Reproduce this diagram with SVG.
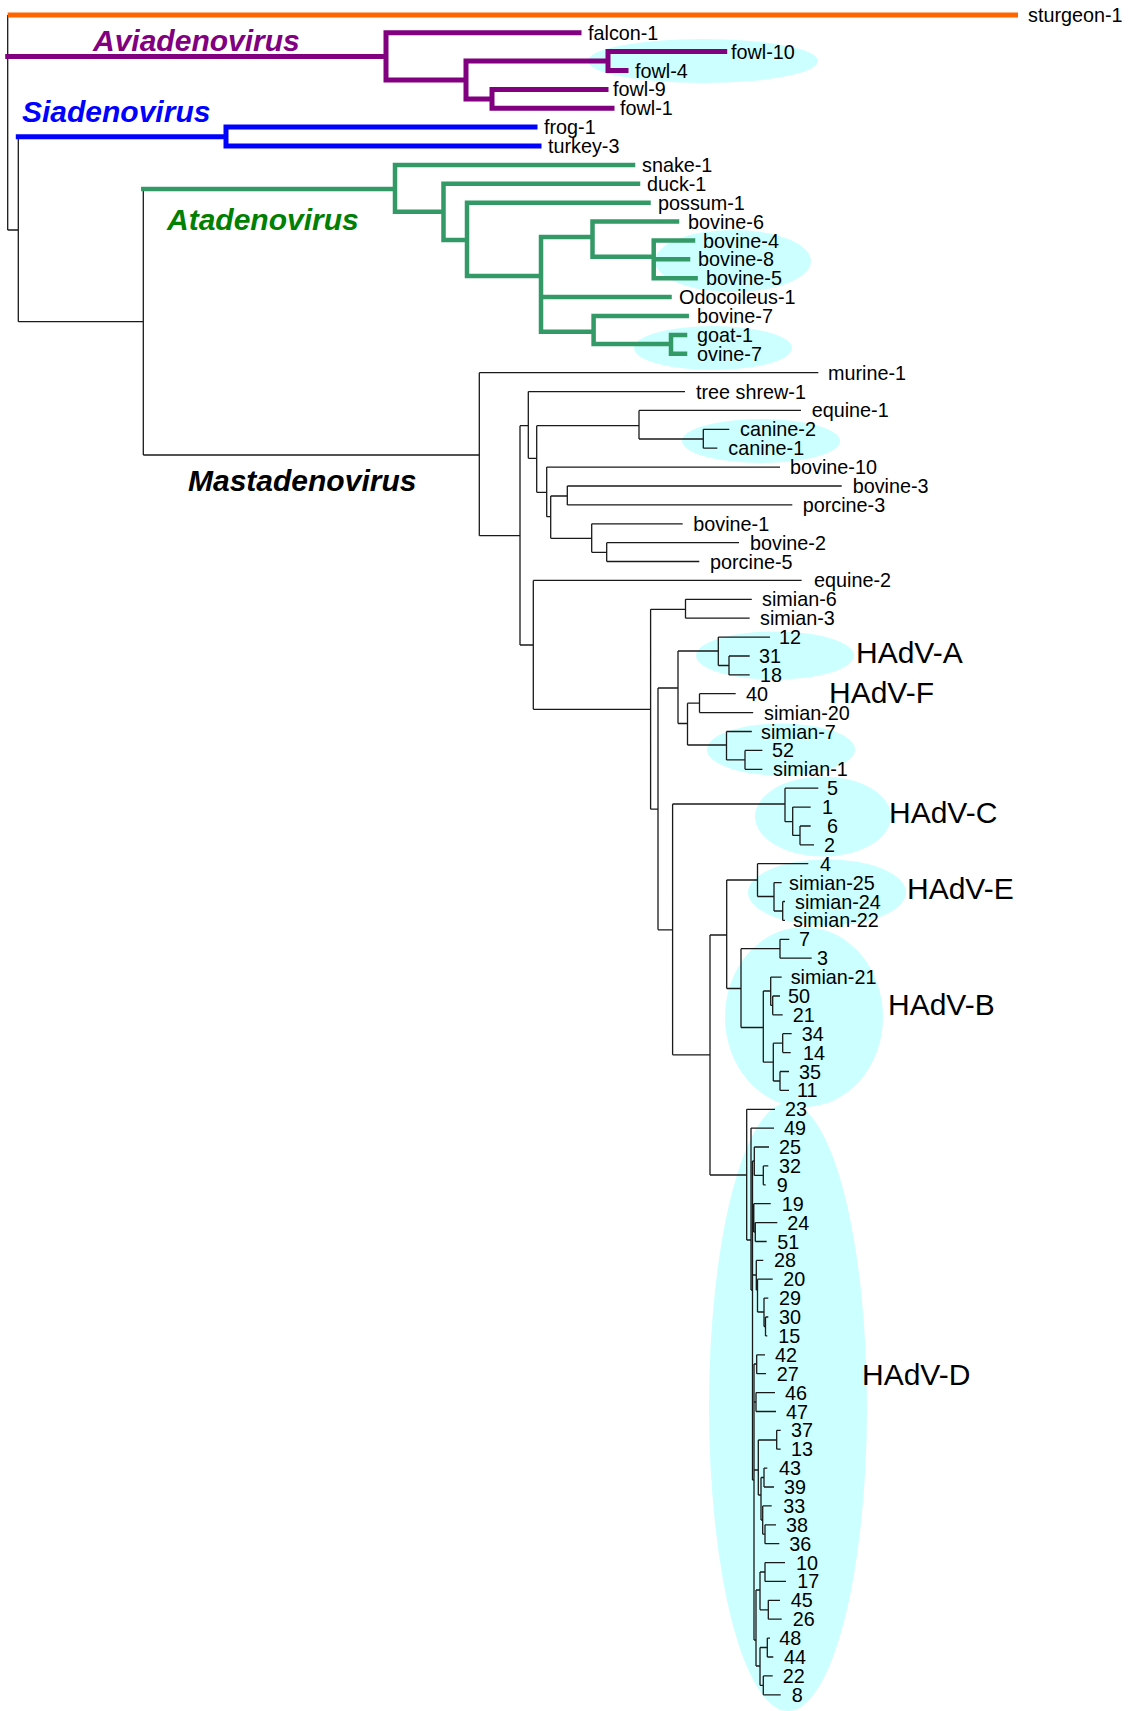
<svg xmlns="http://www.w3.org/2000/svg" width="1136" height="1711" viewBox="0 0 1136 1711">
<defs>
<style>
.hl{fill:#ccffff;stroke:none}
.br{fill:none;stroke:#1a1a1a;stroke-width:1.3}
.thick{fill:none;stroke-width:5;stroke-linecap:square}
.av{stroke:#800080}
.si{stroke:#0000ff}
.at{stroke:#339966;stroke-width:4.5}
.lf{font-family:"Liberation Sans",Arial,sans-serif;font-size:19.8px;fill:#000}
.cl{font-family:"Liberation Sans",Arial,sans-serif;font-size:30px;font-weight:bold;font-style:italic}
.hv{font-family:"Liberation Sans",Arial,sans-serif;font-size:30px;fill:#000}
</style>
</defs>
<rect width="1136" height="1711" fill="#fff"/>
<g id="highlights">
<ellipse class="hl" cx="703" cy="61" rx="115" ry="22"/>
<ellipse class="hl" cx="733" cy="261" rx="78" ry="31"/>
<ellipse class="hl" cx="713" cy="348" rx="79" ry="22"/>
<ellipse class="hl" cx="761" cy="441" rx="79" ry="22"/>
<ellipse class="hl" cx="775" cy="655.5" rx="79" ry="24"/>
<ellipse class="hl" cx="781" cy="749.5" rx="74" ry="26"/>
<ellipse class="hl" cx="823" cy="816.5" rx="68" ry="40"/>
<ellipse class="hl" cx="827" cy="892.3" rx="79" ry="33"/>
<ellipse class="hl" cx="804" cy="1017" rx="79" ry="90"/>
<ellipse class="hl" cx="788" cy="1407" rx="79" ry="304"/>
</g>
<g id="connectors">
<path class="br" d="M7.7 15V230M7.7 230H18.3M18.3 136.7V321.7M18.3 321.7H143.3M143.3 189V455M143.3 455H479.3"/>
<path fill="none" stroke="#ff6600" stroke-width="5" d="M7.7 15H1018"/>
<path class="thick av" d="M7.7 56.5H386M386 32.7V80M386 32.7H579M386 80H466M466 61V98.9M466 61H608M608 51.6V70.5M608 51.6H724.7M608 70.5H626M466 98.9H492M492 89.4V108.3M492 89.4H606M492 108.3H612"/>
<path class="thick si" d="M18.3 136.7H226M226 127.1V146M226 127.1H535M226 146H539"/>
<path class="thick at" d="M143.3 189H395M395 164.9V211.7M395 164.9H633M395 211.7H443.5M443.5 183.8V240M443.5 183.8H638M443.5 240H467M467 202.7V276M467 202.7H648.5M467 276H541M541 237V331.7M541 237H592.5M541 297.1H669.5M541 331.7H593.6M592.5 221.6V256.7M592.5 221.6H677M592.5 256.7H653.7M653.7 240.5V278.2M653.7 240.5H693M653.7 259.3H688M653.7 278.2H695.6M593.6 316V344M593.6 316H686.7M593.6 344H671M671 334.9V353.8M671 334.9H685M671 353.8H685"/>
<path class="br" d="M479.3 372.7V535.7M479.3 372.7H818.3M479.3 535.7H520M520 425.7V645M520 425.7H528.3M528.3 391.6V458.3M528.3 391.6H685M528.3 458.3H536.7M536.7 425.7V492.3M536.7 425.7H639M639 410.4V439M639 410.4H801M639 439H703.3M703.3 429.3V448.2M703.3 429.3H729.3M703.3 448.2H717.3M536.7 492.3H546.7M546.7 467.1V516.7M546.7 467.1H780M546.7 516.7H550.7M550.7 496V538.3M550.7 496H567.3M567.3 486V504.9M567.3 486H841.7M567.3 504.9H792.3M550.7 538.3H591.7M591.7 523.8V552.3M591.7 523.8H682.7M591.7 552.3H606.7M606.7 542.7V561.5M606.7 542.7H739M606.7 561.5H699.3"/>
<path class="br" d="M520 645H533.3M533.3 580.4V709.3M533.3 580.4H801.6M533.3 709.3H650.6M650.6 609.3V809.2M650.6 609.3H685.5M685.5 599.3V618.2M685.5 599.3H751.8M685.5 618.2H749.7M650.6 809.2H658M658 688V929.8M658 688H678M678 651V723.5M678 651H718.3M718.3 637.1V665.5M718.3 637.1H770M718.3 665.5H729M729 656V674.9M729 656H749.7M729 674.9H749.7M678 723.5H687.5M687.5 703.2V745M687.5 703.2H699.5M699.5 693.7V712.6M699.5 693.7H735.7M699.5 712.6H753.2M687.5 745H726.5M726.5 731.5V759.9M726.5 731.5H751.8M726.5 759.9H745M745 750.4V769.3M745 750.4H762.4M745 769.3H762.4"/>
<path class="br" d="M658 929.8H672.6M672.6 804V1054.8M672.6 804H785M785 788.2V821.7M785 788.2H818.3M785 821.7H792.7M792.7 807.1V835.4M792.7 807.1H810.7M792.7 835.4H800M800 826V844.8M800 826H810.7M800 844.8H814M672.6 1054.8H710M710 935V1175M710 935H726.7M726.7 880V988.5M726.7 880H757.5M757.5 863.7V896.5M757.5 863.7H808.3M757.5 896.5H774M774 882.6V911M774 882.6H781.7M774 911H782.7M782.7 901.5V920.4M782.7 901.5H785M782.7 920.4H785M726.7 988.5H741M741 948.7V1027.5M741 948.7H780M780 939.3V958.2M780 939.3H789.3M780 958.2H811.7M741 1027.5H763.3M763.3 991V1062.2M763.3 991H770.7M770.7 977.1V1005.4M770.7 977.1H781.7M770.7 1005.4H772.7M772.7 996V1014.8M772.7 996H780M772.7 1014.8H782.7M763.3 1062.2H773.3M773.3 1043.2V1081M773.3 1043.2H782.7M782.7 1033.7V1052.6M782.7 1033.7H791.7M782.7 1052.6H790.7M773.3 1081H780M780 1071.5V1090.4M780 1071.5H789M780 1090.4H789"/>
<path class="br" d="M710 1175H746.7M746.7 1109.3V1240M746.7 1109.3H775M746.7 1240H751M751 1128.1V1290M751 1128.1H774M751 1290H752.5M752.5 1161V1480M752.5 1161H754.3M754.3 1147V1175.4M754.3 1147H769M754.3 1175.4H763.3M763.3 1165.9V1184.8M763.3 1165.9H768.3M763.3 1184.8H765.7M752.5 1218H753.8M753.8 1203.7V1232M753.8 1203.7H770.7M753.8 1232H755.3M755.3 1222.6V1241.5M755.3 1222.6H777.3M755.3 1241.5H766.7M752.5 1275H756.3M756.3 1260.4V1290M756.3 1260.4H763.3M756.3 1290H757.5M757.5 1279.2V1312M757.5 1279.2H772.7M757.5 1312H764M764 1298.1V1326.5M764 1298.1H768.3M764 1326.5H765.5M765.5 1317V1335.9M765.5 1317H768.3M765.5 1335.9H767.3"/>
<path class="br" d="M752.5 1480H754M754 1364V1640M754 1364H756.7M756.7 1354.8V1373.7M756.7 1354.8H765M756.7 1373.7H766M754 1402H756M756 1392.6V1411.5M756 1392.6H775M756 1411.5H776M754 1470H758.3M758.3 1440V1495M758.3 1440H776.7M776.7 1430.3V1449.2M776.7 1430.3H780.7M776.7 1449.2H780.7M758.3 1495H761M761 1477.5V1520M761 1477.5H764M764 1468.1V1487M764 1468.1H767.3M764 1487H774M761 1520H762.7M762.7 1505.9V1534.2M762.7 1505.9H771.7M762.7 1534.2H765M765 1524.8V1543.7M765 1524.8H776M765 1543.7H779.3M754 1640H756M756 1590V1666M756 1590H760M760 1572V1609.8M760 1572H765M765 1562.6V1581.4M765 1562.6H785M765 1581.4H786M760 1609.8H768.3M768.3 1600.3V1619.2M768.3 1600.3H780M768.3 1619.2H781.7M756 1666H760M760 1647.5V1685.3M760 1647.5H767.3M767.3 1638.1V1657M767.3 1638.1H770M767.3 1657H773.3M760 1685.3H763.3M763.3 1675.9V1694.8M763.3 1675.9H772.7M763.3 1694.8H780.7"/>
</g>
<g id="clade-labels">
<text id="lbl-avi" class="cl" x="93" y="51" fill="#800080">Aviadenovirus</text>
<text id="lbl-sia" class="cl" x="22" y="122" fill="#0000ff">Siadenovirus</text>
<text id="lbl-ata" class="cl" x="167" y="229.5" fill="#008000">Atadenovirus</text>
<text id="lbl-mast" class="cl" x="188" y="490.5" fill="#000">Mastadenovirus</text>
<text id="lbl-A" class="hv" x="856" y="663">HAdV-A</text>
<text id="lbl-F" class="hv" x="829" y="703">HAdV-F</text>
<text id="lbl-C" class="hv" x="889" y="823">HAdV-C</text>
<text id="lbl-E" class="hv" x="907" y="899">HAdV-E</text>
<text id="lbl-B" class="hv" x="888" y="1015">HAdV-B</text>
<text id="lbl-D" class="hv" x="862" y="1385">HAdV-D</text>
</g>
<g id="leaves" class="lf">
<g id="n-sturgeon-1"><text x="1028" y="22">sturgeon-1</text></g>
<g id="n-falcon-1"><text x="588" y="39.7">falcon-1</text></g>
<g id="n-fowl-10"><text x="731" y="58.6">fowl-10</text></g>
<g id="n-fowl-4"><text x="635" y="77.5">fowl-4</text></g>
<g id="n-fowl-9"><text x="613" y="96.4">fowl-9</text></g>
<g id="n-fowl-1"><text x="620" y="115.3">fowl-1</text></g>
<g id="n-frog-1"><text x="544" y="134.1">frog-1</text></g>
<g id="n-turkey-3"><text x="548" y="153">turkey-3</text></g>
<g id="n-snake-1"><text x="642" y="171.9">snake-1</text></g>
<g id="n-duck-1"><text x="647" y="190.8">duck-1</text></g>
<g id="n-possum-1"><text x="658" y="209.7">possum-1</text></g>
<g id="n-bovine-6"><text x="688" y="228.6">bovine-6</text></g>
<g id="n-bovine-4"><text x="703" y="247.5">bovine-4</text></g>
<g id="n-bovine-8"><text x="698" y="266.3">bovine-8</text></g>
<g id="n-bovine-5"><text x="706" y="285.2">bovine-5</text></g>
<g id="n-odocoileus-1"><text x="679" y="304.1">Odocoileus-1</text></g>
<g id="n-bovine-7"><text x="697" y="323">bovine-7</text></g>
<g id="n-goat-1"><text x="697" y="341.9">goat-1</text></g>
<g id="n-ovine-7"><text x="697" y="360.8">ovine-7</text></g>
<g id="n-murine-1"><text x="828" y="379.7">murine-1</text></g>
<g id="n-tree-shrew-1"><text x="696" y="398.6">tree shrew-1</text></g>
<g id="n-equine-1"><text x="811.7" y="417.4">equine-1</text></g>
<g id="n-canine-2"><text x="740" y="436.3">canine-2</text></g>
<g id="n-canine-1"><text x="728.3" y="455.2">canine-1</text></g>
<g id="n-bovine-10"><text x="790" y="474.1">bovine-10</text></g>
<g id="n-bovine-3"><text x="852.7" y="493">bovine-3</text></g>
<g id="n-porcine-3"><text x="802.7" y="511.9">porcine-3</text></g>
<g id="n-bovine-1"><text x="693.3" y="530.8">bovine-1</text></g>
<g id="n-bovine-2"><text x="750" y="549.7">bovine-2</text></g>
<g id="n-porcine-5"><text x="710" y="568.5">porcine-5</text></g>
<g id="n-equine-2"><text x="814" y="587.4">equine-2</text></g>
<g id="n-simian-6"><text x="762" y="606.3">simian-6</text></g>
<g id="n-simian-3"><text x="760" y="625.2">simian-3</text></g>
<g id="n-12"><text x="779" y="644.1">12</text></g>
<g id="n-31"><text x="759" y="663">31</text></g>
<g id="n-18"><text x="760" y="681.9">18</text></g>
<g id="n-40"><text x="746" y="700.7">40</text></g>
<g id="n-simian-20"><text x="764" y="719.6">simian-20</text></g>
<g id="n-simian-7"><text x="761" y="738.5">simian-7</text></g>
<g id="n-52"><text x="772" y="757.4">52</text></g>
<g id="n-simian-1"><text x="773" y="776.3">simian-1</text></g>
<g id="n-5"><text x="827" y="795.2">5</text></g>
<g id="n-1"><text x="822" y="814.1">1</text></g>
<g id="n-6"><text x="827" y="833">6</text></g>
<g id="n-2"><text x="824" y="851.8">2</text></g>
<g id="n-4"><text x="820" y="870.7">4</text></g>
<g id="n-simian-25"><text x="789" y="889.6">simian-25</text></g>
<g id="n-simian-24"><text x="795" y="908.5">simian-24</text></g>
<g id="n-simian-22"><text x="793" y="927.4">simian-22</text></g>
<g id="n-7"><text x="799" y="946.3">7</text></g>
<g id="n-3"><text x="817" y="965.2">3</text></g>
<g id="n-simian-21"><text x="790.7" y="984.1">simian-21</text></g>
<g id="n-50"><text x="788" y="1003">50</text></g>
<g id="n-21"><text x="792.7" y="1021.8">21</text></g>
<g id="n-34"><text x="801.7" y="1040.7">34</text></g>
<g id="n-14"><text x="803" y="1059.6">14</text></g>
<g id="n-35"><text x="799" y="1078.5">35</text></g>
<g id="n-11"><text x="797" y="1097.4">11</text></g>
<g id="n-23"><text x="785" y="1116.3">23</text></g>
<g id="n-49"><text x="784" y="1135.1">49</text></g>
<g id="n-25"><text x="779" y="1154">25</text></g>
<g id="n-32"><text x="779" y="1172.9">32</text></g>
<g id="n-9"><text x="776.7" y="1191.8">9</text></g>
<g id="n-19"><text x="781.7" y="1210.7">19</text></g>
<g id="n-24"><text x="787.3" y="1229.6">24</text></g>
<g id="n-51"><text x="777.3" y="1248.5">51</text></g>
<g id="n-28"><text x="774" y="1267.4">28</text></g>
<g id="n-20"><text x="783.3" y="1286.2">20</text></g>
<g id="n-29"><text x="779" y="1305.1">29</text></g>
<g id="n-30"><text x="779" y="1324">30</text></g>
<g id="n-15"><text x="778.3" y="1342.9">15</text></g>
<g id="n-42"><text x="775" y="1361.8">42</text></g>
<g id="n-27"><text x="776.7" y="1380.7">27</text></g>
<g id="n-46"><text x="785" y="1399.6">46</text></g>
<g id="n-47"><text x="786" y="1418.5">47</text></g>
<g id="n-37"><text x="791" y="1437.3">37</text></g>
<g id="n-13"><text x="791" y="1456.2">13</text></g>
<g id="n-43"><text x="779" y="1475.1">43</text></g>
<g id="n-39"><text x="784" y="1494">39</text></g>
<g id="n-33"><text x="783.3" y="1512.9">33</text></g>
<g id="n-38"><text x="786" y="1531.8">38</text></g>
<g id="n-36"><text x="789.3" y="1550.7">36</text></g>
<g id="n-10"><text x="796" y="1569.6">10</text></g>
<g id="n-17"><text x="797.3" y="1588.4">17</text></g>
<g id="n-45"><text x="790.7" y="1607.3">45</text></g>
<g id="n-26"><text x="792.7" y="1626.2">26</text></g>
<g id="n-48"><text x="779.3" y="1645.1">48</text></g>
<g id="n-44"><text x="784" y="1664">44</text></g>
<g id="n-22"><text x="782.7" y="1682.9">22</text></g>
<g id="n-8"><text x="791.7" y="1701.8">8</text></g>
</g>
</svg>
